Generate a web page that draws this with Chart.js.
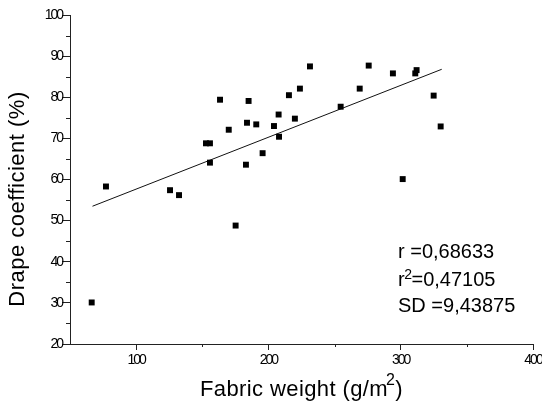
<!DOCTYPE html>
<html><head><meta charset="utf-8">
<script src="https://cdn.jsdelivr.net/npm/chart.js@4/dist/chart.umd.min.js"></script>
<style>html,body{margin:0;padding:0;background:#fff}#wrap{width:542px;height:406px}</style>
</head><body><div id="wrap"><canvas id="c" width="542" height="406"></canvas></div>
<script>
// Data
const fabricWeight = [66.4, 77.2, 125.6, 132.4, 152.8, 155.8, 155.8, 163.4, 170.0, 175.2, 183.0, 183.8, 185.0, 190.8, 195.6, 204.2, 207.7, 208.0, 215.5, 220.0, 223.8, 231.4, 254.6, 269.0, 275.8, 294.1, 301.5, 311.0, 312.0, 324.9, 330.2];
const drapeCoefficient = [30.1, 58.3, 57.4, 56.2, 68.8, 68.8, 64.1, 79.4, 72.1, 48.8, 63.6, 73.8, 79.1, 73.4, 66.4, 73.0, 75.8, 70.4, 80.5, 74.8, 82.1, 87.5, 77.7, 82.1, 87.7, 85.8, 60.1, 85.8, 86.6, 80.4, 72.9];
const fitWeight = [67, 331];
const fitDrape = [53.5, 86.8];
const xTickValues = [50, 100, 150, 200, 250, 300, 350, 400];
const xTickLabels = ['', '100', '', '200', '', '300', '', '400'];
const yTickValues = [20, 25, 30, 35, 40, 45, 50, 55, 60, 65, 70, 75, 80, 85, 90, 95, 100];
const yTickLabels = ['20', '', '30', '', '40', '', '50', '', '60', '', '70', '', '80', '', '90', '', '100'];
const xTitleParts = ['Fabric weight (g/m', '2', ')'];
const yTitle = 'Drape coefficient (%)';
const statNames = ['r ', 'r', 'SD '];
const statSups = ['', '2', ''];
const statValues = ['=0,68633', '=0,47105', '=9,43875'];

const FONT = '"Liberation Sans", Arial, sans-serif';
const AX = '#222';

const points = fabricWeight.map((x, i) => ({x, y: drapeCoefficient[i]}));
const fitLine = fitWeight.map((x, i) => ({x, y: fitDrape[i]}));

const extras = {
  id: 'extras',
  beforeDraw(chart) { chart.ctx.letterSpacing = '-2px'; },
  beforeDatasetsDraw(chart) { chart.ctx.letterSpacing = '0px'; },
  afterDraw(chart) {
    const ctx = chart.ctx;
    const xs = chart.scales.x, ys = chart.scales.y;
    ctx.save();
    ctx.letterSpacing = '0px';
    ctx.strokeStyle = AX; ctx.lineWidth = 1;
    // minor ticks
    ctx.beginPath();
    xTickValues.forEach((v, i) => {
      if (xTickLabels[i] === '' && v > xs.min) {
        const px = Math.round(xs.getPixelForValue(v)) + 0.5;
        ctx.moveTo(px, xs.top); ctx.lineTo(px, xs.top + 3);
      }
    });
    yTickValues.forEach((v, i) => {
      if (yTickLabels[i] === '') {
        const py = Math.round(ys.getPixelForValue(v)) + 0.5;
        ctx.moveTo(ys.right, py); ctx.lineTo(ys.right - 4, py);
      }
    });
    ctx.stroke();
    ctx.fillStyle = '#000';
    // y title
    ctx.save();
    ctx.translate(18, 199);
    ctx.rotate(-Math.PI / 2);
    ctx.font = '22px ' + FONT;
    ctx.letterSpacing = '0.5px';
    ctx.textAlign = 'center'; ctx.textBaseline = 'middle';
    ctx.fillText(yTitle, 0, 0);
    ctx.restore();
    // x title with superscript
    ctx.textBaseline = 'alphabetic'; ctx.textAlign = 'left';
    ctx.letterSpacing = '0.4px';
    ctx.font = '22px ' + FONT;
    const w1 = ctx.measureText(xTitleParts[0]).width;
    const w3 = ctx.measureText(xTitleParts[2]).width;
    ctx.font = '16px ' + FONT;
    const w2 = ctx.measureText(xTitleParts[1]).width;
    const total = w1 + w2 - 2 + w3;
    const cx = (xs.left + xs.right) / 2;
    let tx = cx - total / 2;
    ctx.font = '22px ' + FONT;
    ctx.fillText(xTitleParts[0], tx, 396);
    tx += w1 - 2;
    ctx.font = '16px ' + FONT;
    ctx.fillText(xTitleParts[1], tx, 385);
    tx += w2;
    ctx.font = '22px ' + FONT;
    ctx.fillText(xTitleParts[2], tx, 396);
    // statistics
    ctx.letterSpacing = '0px';
    const baselines = [258, 286, 312];
    statNames.forEach((nm, i) => {
      let x = 398;
      ctx.font = '20px ' + FONT;
      ctx.fillText(nm, x, baselines[i]);
      x += ctx.measureText(nm).width;
      if (statSups[i]) {
        ctx.font = '14px ' + FONT;
        ctx.fillText(statSups[i], x - 0.5, baselines[i] - 7);
        x += ctx.measureText(statSups[i]).width - 1;
      }
      ctx.font = '20px ' + FONT;
      ctx.fillText(statValues[i], x, baselines[i]);
    });
    ctx.restore();
  }
};

new Chart(document.getElementById('c'), {
  type: 'scatter',
  data: {
    datasets: [
      {data: points, pointStyle: 'rect', pointRadius: 4.2, pointHoverRadius: 4.2,
       backgroundColor: '#000', borderColor: '#000', borderWidth: 0},
      {type: 'line', data: fitLine, showLine: true, borderColor: '#111', borderWidth: 1,
       pointRadius: 0, fill: false, tension: 0}
    ]
  },
  options: {
    responsive: false, animation: false, devicePixelRatio: 1,
    layout: {padding: {left: 0, top: 15, right: 9, bottom: 0}},
    plugins: {legend: {display: false}, tooltip: {enabled: false}},
    scales: {
      x: {
        type: 'linear', min: 50, max: 400,
        afterBuildTicks: s => { s.ticks = xTickValues.map(v => ({value: v})); },
        afterFit: s => { s.height = 62; s.paddingLeft = 0; s.paddingRight = 0; },
        ticks: {callback: (v, i) => xTickLabels[i], autoSkip: false, maxRotation: 0, minRotation: 0,
                padding: 2, color: '#000', font: {family: FONT, size: 14}},
        grid: {display: true, drawOnChartArea: false, drawTicks: true, tickLength: 6, tickWidth: 1,
               tickColor: c => xTickLabels[c.index] ? AX : 'rgba(0,0,0,0)', color: 'rgba(0,0,0,0)'},
        border: {display: true, color: AX, width: 1},
        title: {display: false}
      },
      y: {
        type: 'linear', min: 20, max: 100,
        afterBuildTicks: s => { s.ticks = yTickValues.map(v => ({value: v})); },
        afterFit: s => { s.width = 70; s.paddingTop = 0; s.paddingBottom = 0; },
        ticks: {callback: (v, i) => yTickLabels[i], autoSkip: false, padding: 0, color: '#000',
                font: {family: FONT, size: 14}},
        grid: {display: true, drawOnChartArea: false, drawTicks: true, tickLength: 8, tickWidth: 1,
               tickColor: c => yTickLabels[c.index] ? AX : 'rgba(0,0,0,0)', color: 'rgba(0,0,0,0)'},
        border: {display: true, color: AX, width: 1},
        title: {display: false}
      }
    }
  },
  plugins: [extras]
});
</script></body></html>
